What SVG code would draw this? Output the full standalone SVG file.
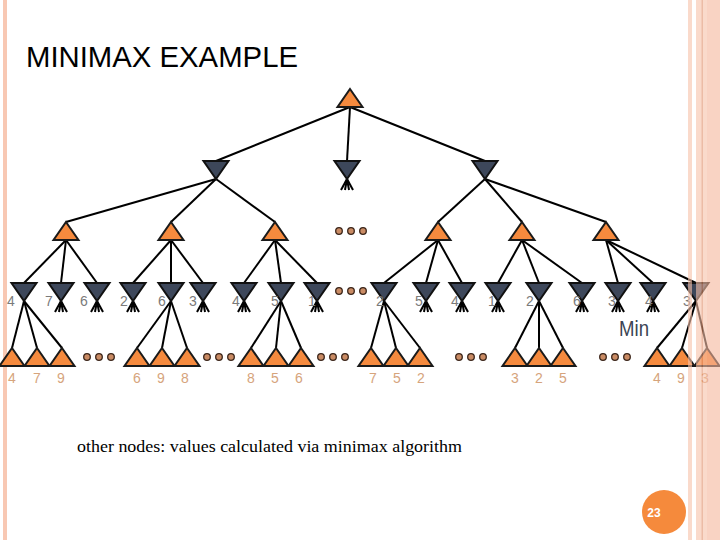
<svg xmlns="http://www.w3.org/2000/svg" width="720" height="540" viewBox="0 0 720 540">
<defs>
<style>
.max{fill:#F58A3E;stroke:#1a1a1a;stroke-width:2;stroke-linejoin:miter}
.min{fill:#3D475A;stroke:#111;stroke-width:2}
.e line{stroke:#000;stroke-width:2}
.dot{fill:#C98B64;stroke:#3a2418;stroke-width:1.3}
.ml{font-family:"Liberation Sans",Arial,sans-serif;font-size:14px;fill:#7A7A7A;text-anchor:middle}
.ll{font-family:"Liberation Sans",Arial,sans-serif;font-size:14px;fill:#D6A47C;text-anchor:middle}
</style>
<polygon id="up" points="0,0 12.5,18 -12.5,18"/>
<polygon id="dn" points="-12.5,0 12.5,0 0,18"/>
<g id="stb" stroke="#000" stroke-width="2"><line x1="0" y1="0" x2="-6" y2="11"/><line x1="0" y1="0" x2="-2" y2="11"/><line x1="0" y1="0" x2="2" y2="11"/><line x1="0" y1="0" x2="6" y2="11"/></g>
</defs>
<rect width="720" height="540" fill="#fff"/>
<rect x="3" y="0" width="4" height="540" fill="#F8C8B3"/>
<text x="26" y="67" font-family="'Liberation Sans',Arial,sans-serif" font-size="30" textLength="272" lengthAdjust="spacingAndGlyphs" fill="#000">MINIMAX EXAMPLE</text>

<g id="connectors" class="e">
<line x1="350" y1="107" x2="216" y2="161"/>
<line x1="350" y1="107" x2="347" y2="161"/>
<line x1="350" y1="107" x2="485" y2="161"/>
<line x1="216" y1="179" x2="66" y2="222"/>
<line x1="216" y1="179" x2="171" y2="222"/>
<line x1="216" y1="179" x2="275" y2="222"/>
<line x1="485" y1="179" x2="438" y2="222"/>
<line x1="485" y1="179" x2="522" y2="222"/>
<line x1="485" y1="179" x2="606" y2="222"/>
<line x1="66" y1="240" x2="24" y2="283"/>
<line x1="66" y1="240" x2="61" y2="283"/>
<line x1="66" y1="240" x2="97" y2="283"/>
<line x1="171" y1="240" x2="133" y2="283"/>
<line x1="171" y1="240" x2="171" y2="283"/>
<line x1="171" y1="240" x2="203" y2="283"/>
<line x1="275" y1="240" x2="244" y2="283"/>
<line x1="275" y1="240" x2="281" y2="283"/>
<line x1="275" y1="240" x2="317" y2="283"/>
<line x1="438" y1="240" x2="384" y2="283"/>
<line x1="438" y1="240" x2="426" y2="283"/>
<line x1="438" y1="240" x2="462" y2="283"/>
<line x1="522" y1="240" x2="498" y2="283"/>
<line x1="522" y1="240" x2="539" y2="283"/>
<line x1="522" y1="240" x2="582" y2="283"/>
<line x1="606" y1="240" x2="618" y2="283"/>
<line x1="606" y1="240" x2="653" y2="283"/>
<line x1="606" y1="240" x2="696" y2="283"/>
<line x1="24" y1="301" x2="12" y2="348"/>
<line x1="24" y1="301" x2="37" y2="348"/>
<line x1="24" y1="301" x2="62" y2="348"/>
<line x1="171" y1="301" x2="137" y2="348"/>
<line x1="171" y1="301" x2="162" y2="348"/>
<line x1="171" y1="301" x2="187" y2="348"/>
<line x1="281" y1="301" x2="251" y2="348"/>
<line x1="281" y1="301" x2="276" y2="348"/>
<line x1="281" y1="301" x2="301" y2="348"/>
<line x1="384" y1="301" x2="371" y2="348"/>
<line x1="384" y1="301" x2="396" y2="348"/>
<line x1="384" y1="301" x2="420" y2="348"/>
<line x1="539" y1="301" x2="515" y2="348"/>
<line x1="539" y1="301" x2="539" y2="348"/>
<line x1="539" y1="301" x2="563" y2="348"/>
<line x1="696" y1="301" x2="657" y2="348"/>
<line x1="696" y1="301" x2="682" y2="348"/>
<line x1="696" y1="301" x2="707" y2="348"/>
</g>

<g id="stubs">
<use href="#stb" x="347" y="179"/>
<use href="#stb" x="61" y="301"/><use href="#stb" x="97" y="301"/>
<use href="#stb" x="133" y="301"/><use href="#stb" x="203" y="301"/>
<use href="#stb" x="244" y="301"/><use href="#stb" x="317" y="301"/>
<use href="#stb" x="426" y="301"/><use href="#stb" x="462" y="301"/>
<use href="#stb" x="498" y="301"/><use href="#stb" x="582" y="301"/>
<use href="#stb" x="618" y="301"/><use href="#stb" x="653" y="301"/>
</g>

<g id="root"><use href="#up" class="max" x="350" y="89"/></g>
<g id="l1">
<g id="m1"><use href="#dn" class="min" x="216" y="161"/></g>
<g id="m2"><use href="#dn" class="min" x="347" y="161"/></g>
<g id="m3"><use href="#dn" class="min" x="485" y="161"/></g>
</g>
<g id="l2">
<g id="x1"><use href="#up" class="max" x="66" y="222"/></g>
<g id="x2"><use href="#up" class="max" x="171" y="222"/></g>
<g id="x3"><use href="#up" class="max" x="275" y="222"/></g>
<g id="x4"><use href="#up" class="max" x="438" y="222"/></g>
<g id="x5"><use href="#up" class="max" x="522" y="222"/></g>
<g id="x6"><use href="#up" class="max" x="606" y="222"/></g>
</g>
<g id="l3">
<g id="n1"><use href="#dn" class="min" x="24" y="283"/><text class="ml" x="11" y="306">4</text></g>
<g id="n2"><use href="#dn" class="min" x="61" y="283"/><text class="ml" x="49" y="306">7</text></g>
<g id="n3"><use href="#dn" class="min" x="97" y="283"/><text class="ml" x="84" y="306">6</text></g>
<g id="n4"><use href="#dn" class="min" x="133" y="283"/><text class="ml" x="124" y="306">2</text></g>
<g id="n5"><use href="#dn" class="min" x="171" y="283"/><text class="ml" x="162" y="306">6</text></g>
<g id="n6"><use href="#dn" class="min" x="203" y="283"/><text class="ml" x="193" y="306">3</text></g>
<g id="n7"><use href="#dn" class="min" x="244" y="283"/><text class="ml" x="236" y="306">4</text></g>
<g id="n8"><use href="#dn" class="min" x="281" y="283"/><text class="ml" x="275" y="306">5</text></g>
<g id="n9"><use href="#dn" class="min" x="317" y="283"/><text class="ml" x="312" y="306">1</text></g>
<g id="n10"><use href="#dn" class="min" x="384" y="283"/><text class="ml" x="380" y="306">2</text></g>
<g id="n11"><use href="#dn" class="min" x="426" y="283"/><text class="ml" x="419" y="306">5</text></g>
<g id="n12"><use href="#dn" class="min" x="462" y="283"/><text class="ml" x="455" y="306">4</text></g>
<g id="n13"><use href="#dn" class="min" x="498" y="283"/><text class="ml" x="492" y="306">1</text></g>
<g id="n14"><use href="#dn" class="min" x="539" y="283"/><text class="ml" x="530" y="306">2</text></g>
<g id="n15"><use href="#dn" class="min" x="582" y="283"/><text class="ml" x="577" y="306">6</text></g>
<g id="n16"><use href="#dn" class="min" x="618" y="283"/><text class="ml" x="612" y="306">3</text></g>
<g id="n17"><use href="#dn" class="min" x="653" y="283"/><text class="ml" x="649" y="306">4</text></g>
<g id="n18"><use href="#dn" class="min" x="696" y="283"/><text class="ml" x="687" y="306">3</text></g>
</g>
<g id="leaves">
<g id="f1"><use href="#up" class="max" x="12" y="348"/><text class="ll" x="12" y="383">4</text></g>
<g id="f2"><use href="#up" class="max" x="37" y="348"/><text class="ll" x="37" y="383">7</text></g>
<g id="f3"><use href="#up" class="max" x="62" y="348"/><text class="ll" x="61" y="383">9</text></g>
<g id="f4"><use href="#up" class="max" x="137" y="348"/><text class="ll" x="137" y="383">6</text></g>
<g id="f5"><use href="#up" class="max" x="162" y="348"/><text class="ll" x="161" y="383">9</text></g>
<g id="f6"><use href="#up" class="max" x="187" y="348"/><text class="ll" x="185" y="383">8</text></g>
<g id="f7"><use href="#up" class="max" x="251" y="348"/><text class="ll" x="251" y="383">8</text></g>
<g id="f8"><use href="#up" class="max" x="276" y="348"/><text class="ll" x="275" y="383">5</text></g>
<g id="f9"><use href="#up" class="max" x="301" y="348"/><text class="ll" x="299" y="383">6</text></g>
<g id="f10"><use href="#up" class="max" x="371" y="348"/><text class="ll" x="373" y="383">7</text></g>
<g id="f11"><use href="#up" class="max" x="396" y="348"/><text class="ll" x="397" y="383">5</text></g>
<g id="f12"><use href="#up" class="max" x="420" y="348"/><text class="ll" x="421" y="383">2</text></g>
<g id="f13"><use href="#up" class="max" x="515" y="348"/><text class="ll" x="515" y="383">3</text></g>
<g id="f14"><use href="#up" class="max" x="539" y="348"/><text class="ll" x="539" y="383">2</text></g>
<g id="f15"><use href="#up" class="max" x="563" y="348"/><text class="ll" x="563" y="383">5</text></g>
<g id="f16"><use href="#up" class="max" x="657" y="348"/><text class="ll" x="657" y="383">4</text></g>
<g id="f17"><use href="#up" class="max" x="682" y="348"/><text class="ll" x="681" y="383">9</text></g>
<g id="f18"><use href="#up" class="max" x="707" y="348"/><text class="ll" x="705" y="383">3</text></g>
</g>
<g id="dots">
<circle class="dot" cx="339" cy="231" r="3.3"/><circle class="dot" cx="351" cy="231" r="3.3"/><circle class="dot" cx="363" cy="231" r="3.3"/>
<circle class="dot" cx="339" cy="291" r="3.3"/><circle class="dot" cx="351" cy="291" r="3.3"/><circle class="dot" cx="363" cy="291" r="3.3"/>
<circle class="dot" cx="87" cy="357" r="3.3"/><circle class="dot" cx="99" cy="357" r="3.3"/><circle class="dot" cx="111" cy="357" r="3.3"/>
<circle class="dot" cx="207" cy="357" r="3.3"/><circle class="dot" cx="219" cy="357" r="3.3"/><circle class="dot" cx="231" cy="357" r="3.3"/>
<circle class="dot" cx="321" cy="357" r="3.3"/><circle class="dot" cx="333" cy="357" r="3.3"/><circle class="dot" cx="345" cy="357" r="3.3"/>
<circle class="dot" cx="459" cy="357" r="3.3"/><circle class="dot" cx="471" cy="357" r="3.3"/><circle class="dot" cx="483" cy="357" r="3.3"/>
<circle class="dot" cx="603" cy="357" r="3.3"/><circle class="dot" cx="615" cy="357" r="3.3"/><circle class="dot" cx="627" cy="357" r="3.3"/>
</g>
<text x="619" y="336" font-family="'Liberation Sans',Arial,sans-serif" font-size="22" textLength="30" lengthAdjust="spacingAndGlyphs" fill="#3B4454">Min</text>
<text x="77" y="452" font-family="'Liberation Serif','Times New Roman',serif" font-size="16" textLength="385" lengthAdjust="spacingAndGlyphs" fill="#000">other nodes: values calculated via minimax algorithm</text>
<g id="border" opacity="0.6">
<rect x="688" y="0" width="4" height="540" fill="#F8C2AA"/>
<rect x="696" y="0" width="24" height="540" fill="#F8C2AA"/>
<rect x="707" y="0" width="13" height="540" fill="#F6B69C"/>
<rect x="701.5" y="0" width="1.5" height="540" fill="#E0906C"/>
</g>
<g id="page"><circle cx="664" cy="512" r="22" fill="#F58A3C"/><text x="654" y="517" font-family="'Liberation Sans',Arial,sans-serif" font-size="12" font-weight="bold" fill="#fff" text-anchor="middle">23</text></g>
</svg>
